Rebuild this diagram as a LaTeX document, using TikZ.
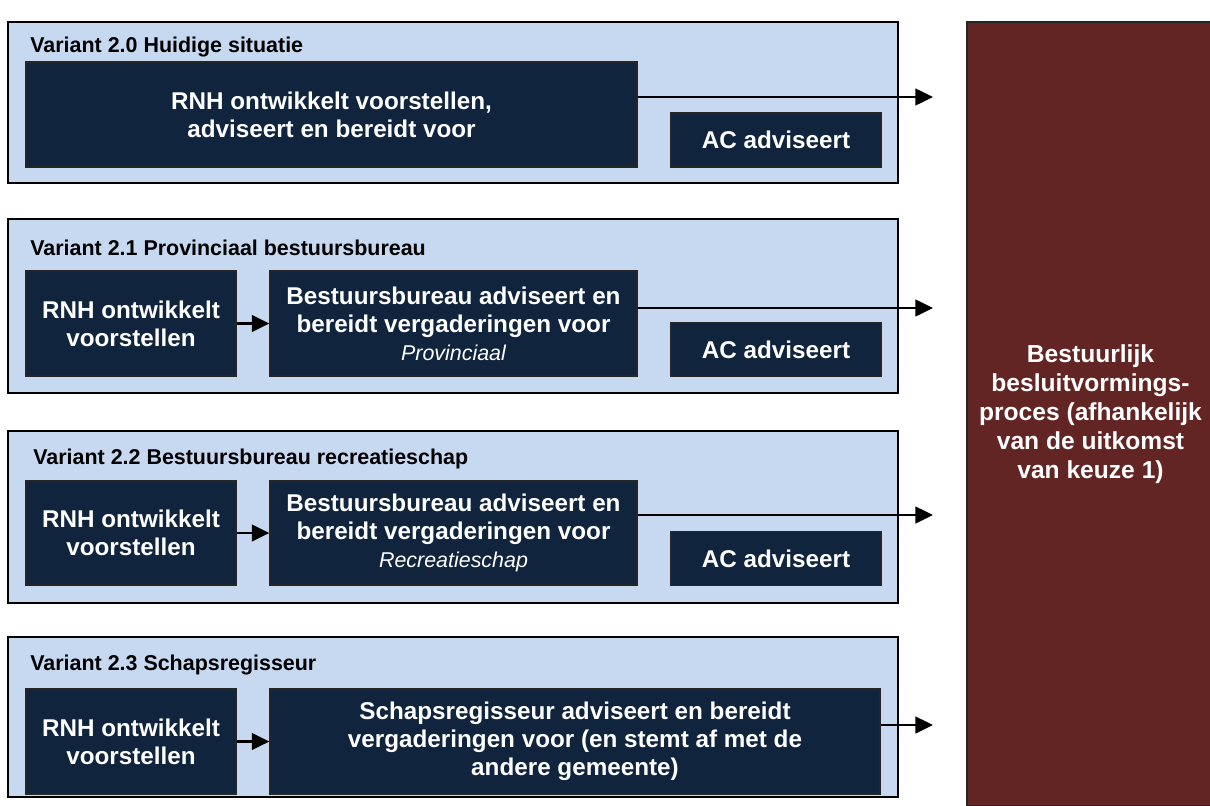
\documentclass[tikz,border=0pt]{standalone}
\usepackage{fontspec}
\setmainfont{Liberation Sans}
\usepackage{xcolor}
\usepackage{tikz}
\usetikzlibrary{arrows.meta}
\definecolor{lightblue}{HTML}{C6D9F1}
\definecolor{navy}{HTML}{10243E}
\definecolor{wine}{HTML}{632523}
\newcommand{\subtext}[1]{{\mdseries\itshape\fontsize{12.2}{14}\selectfont #1}}
\tikzset{
  varbox/.style={fill=lightblue, draw=black, line width=1pt},
  darkbox/.style={fill=navy, draw=black!85, line width=0.8pt, text=white, align=center, inner sep=0pt,
    font=\bfseries\fontsize{13.8}{15.9}\selectfont},
  vartitle/.style={anchor=west, inner sep=0pt, font=\bfseries\fontsize{12.2}{14}\selectfont},
  flow/.style={draw=black, line width=1.2pt, -{Triangle[length=10pt,width=9.5pt]}},
  besluit/.style={fill=wine, draw=black!85, line width=0.8pt, text=white, align=center, inner sep=0pt,
    font=\bfseries\fontsize{14}{16.5}\selectfont},
}

\begin{document}
\begin{tikzpicture}[x=0.02cm,y=-0.02cm]
  \useasboundingbox (0,0) rectangle (1210,805);

  \node[besluit, minimum width=4.94cm, minimum height=15.68cm] (proces) at (1090.5,414)
    {Bestuurlijk\\besluitvormings-\\proces (afhankelijk\\van de uitkomst\\van keuze 1)};

  \coordinate (out20) at (933,97);
  \coordinate (out21) at (933,308);
  \coordinate (out22) at (933,515);
  \coordinate (out23) at (933,725);

  % variant 2.0
  \draw[varbox] (8,22) rectangle (898,183);
  \node[vartitle] (t20) at (30,47) {Variant 2.0 Huidige situatie};
  \node[darkbox, minimum width=12.22cm, minimum height=2.1cm] (rnh20) at (331.5,114.5)
    {RNH ontwikkelt voorstellen,\\adviseert en bereidt voor};
  \node[darkbox, minimum width=4.2cm, minimum height=1.08cm] (ac20) at (776,140) {AC adviseert};
  \draw[flow] (rnh20.east |- out20) -- (out20);

  % variant 2.1
  \draw[varbox] (8,219) rectangle (898,393);
  \node[vartitle] (t21) at (30,248) {Variant 2.1 Provinciaal bestuursbureau};
  \node[darkbox, minimum width=4.2cm, minimum height=2.1cm] (rnh21) at (131,323.5)
    {RNH ontwikkelt\\voorstellen};
  \node[darkbox, minimum width=7.34cm, minimum height=2.1cm] (bb21) at (453.5,323.5)
    {Bestuursbureau adviseert en\\bereidt vergaderingen voor\\\subtext{Provinciaal}};
  \node[darkbox, minimum width=4.2cm, minimum height=1.07cm] (ac21) at (776,349.5) {AC adviseert};
  \draw[flow] (rnh21) -- (bb21);
  \draw[flow] (bb21.east |- out21) -- (out21);

  % variant 2.2
  \draw[varbox] (8,431) rectangle (898,603);
  \node[vartitle] (t22) at (33,459) {Variant 2.2 Bestuursbureau recreatieschap};
  \node[darkbox, minimum width=4.2cm, minimum height=2.08cm] (rnh22) at (131,533)
    {RNH ontwikkelt\\voorstellen};
  \node[darkbox, minimum width=7.34cm, minimum height=2.08cm] (bb22) at (453.5,533)
    {Bestuursbureau adviseert en\\bereidt vergaderingen voor\\\subtext{Recreatieschap}};
  \node[darkbox, minimum width=4.2cm, minimum height=1.07cm] (ac22) at (776,558.5) {AC adviseert};
  \draw[flow] (rnh22) -- (bb22);
  \draw[flow] (bb22.east |- out22) -- (out22);

  % variant 2.3
  \draw[varbox] (8,637) rectangle (898,797);
  \node[vartitle] (t23) at (30,665) {Variant 2.3 Schapsregisseur};
  \node[darkbox, minimum width=4.2cm, minimum height=2.1cm] (rnh23) at (131,741.5)
    {RNH ontwikkelt\\voorstellen};
  \node[darkbox, minimum width=12.2cm, minimum height=2.1cm] (sr23) at (575,741.5)
    {Schapsregisseur adviseert en bereidt\\vergaderingen voor (en stemt af met de\\andere gemeente)};
  \draw[flow] (rnh23) -- (sr23);
  \draw[flow] (sr23.east |- out23) -- (out23);
\end{tikzpicture}
\end{document}
